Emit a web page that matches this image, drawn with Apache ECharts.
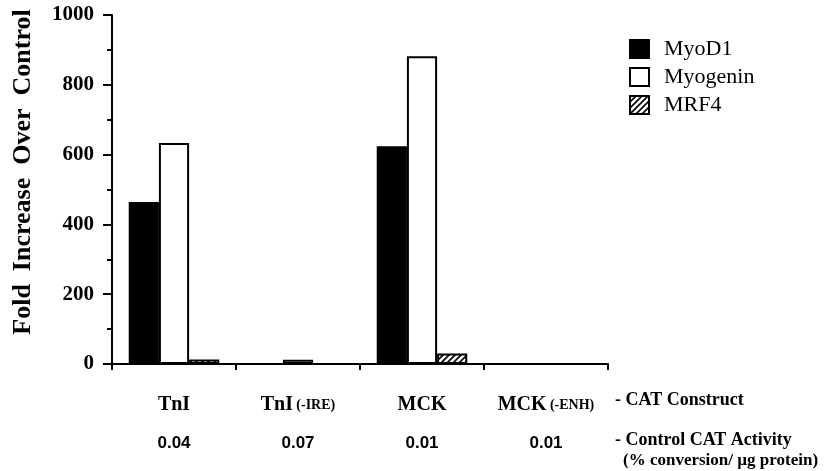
<!DOCTYPE html>
<html>
<head>
<meta charset="utf-8">
<script src="https://cdn.jsdelivr.net/npm/echarts@6/dist/echarts.min.js"></script>
<style>
  html, body { margin: 0; padding: 0; background: #fff; }
  #chart { width: 830px; height: 471px; }
</style>
</head>
<body>
<div id="chart"></div>
<script>
// constructs
var categories = ['TnI', 'TnI', 'MCK', 'MCK'];
var suffixes = ['', '(-IRE)', '', '(-ENH)'];
var activity = ['0.04', '0.07', '0.01', '0.01'];
// fold increase values
var myod1 = [464, 0, 624, 0];
var myogenin = [633, 12, 882, 0];
var mrf4 = [13, 0, 30, 0];
var yTicks = [0, 200, 400, 600, 800, 1000];

// hatch pattern for MRF4
function hatch() {
  var c = document.createElement('canvas');
  c.width = 6; c.height = 6;
  var g = c.getContext('2d');
  g.fillStyle = '#fff';
  g.fillRect(0, 0, 6, 6);
  g.strokeStyle = '#000';
  g.lineWidth = 1.6;
  g.beginPath();
  g.moveTo(-1, 7); g.lineTo(7, -1);
  g.moveTo(-1, 1); g.lineTo(1, -1);
  g.moveTo(5, 7); g.lineTo(7, 5);
  g.stroke();
  return c;
}

var serif = 'Liberation Serif';
var chart = echarts.init(document.getElementById('chart'));

var option = {
  animation: false,
  backgroundColor: '#fff',
  grid: { left: 112, right: 222, top: 15, bottom: 107 },
  legend: {
    orient: 'vertical',
    left: 624,
    top: 33,
    icon: 'rect',
    itemWidth: 19,
    itemHeight: 18,
    itemGap: 6,
    textStyle: { fontFamily: serif, fontSize: 22, color: '#000', padding: [0, 0, 0, 10] },
    data: ['MyoD1', 'Myogenin', 'MRF4']
  },
  xAxis: {
    type: 'category',
    data: categories,
    axisLine: { lineStyle: { color: '#000', width: 2 } },
    axisTick: { show: true, alignWithLabel: false, length: 6, lineStyle: { color: '#000', width: 2 } },
    axisLabel: {
      interval: 0,
      margin: 22,
      formatter: function (v, i) {
        var s = suffixes[i] ? ' {s|' + suffixes[i] + '}' : '';
        return '{m|' + v + '}' + s + '\n{n|' + activity[i] + '}';
      },
      rich: {
        m: { fontFamily: serif, fontSize: 20, fontWeight: 'bold', color: '#000', lineHeight: 38 },
        s: { fontFamily: serif, fontSize: 14, fontWeight: 'bold', color: '#000', lineHeight: 38 },
        n: { fontFamily: 'Liberation Sans', fontSize: 17, fontWeight: 'bold', color: '#000', lineHeight: 38 }
      }
    },
    splitLine: { show: false }
  },
  yAxis: {
    type: 'value',
    min: 0,
    max: 1000,
    interval: 200,
    axisLine: { show: true, lineStyle: { color: '#000', width: 2 } },
    axisTick: { show: true, length: 9, lineStyle: { color: '#000', width: 2 } },
    minorTick: { show: true, splitNumber: 2, length: 5, lineStyle: { color: '#000', width: 2 } },
    axisLabel: {
      margin: 18,
      fontFamily: serif,
      fontSize: 21,
      fontWeight: 'bold',
      color: '#000',
      formatter: function (v) { return yTicks.indexOf(v) >= 0 ? String(v) : ''; }
    },
    splitLine: { show: false }
  },
  series: [
    {
      name: 'MyoD1', type: 'bar', data: myod1,
      barGap: '0%', barCategoryGap: '27%',
      itemStyle: { color: '#000', borderColor: '#000', borderWidth: 2 }
    },
    {
      name: 'Myogenin', type: 'bar', data: myogenin,
      itemStyle: { color: '#fff', borderColor: '#000', borderWidth: 2 }
    },
    {
      name: 'MRF4', type: 'bar', data: mrf4,
      itemStyle: { color: { image: hatch(), repeat: 'repeat' }, borderColor: '#000', borderWidth: 2 }
    }
  ],
  graphic: [
    {
      type: 'text', x: 23, y: 172, rotation: Math.PI / 2,
      style: { text: 'Fold  Increase  Over  Control', fontFamily: serif, fontSize: 26, fontWeight: 'bold',
        fill: '#000', align: 'center', verticalAlign: 'middle' }
    },
    { type: 'text', x: 615, y: 400, style: { text: '- CAT Construct', fontFamily: serif, fontSize: 18, fontWeight: 'bold', fill: '#000', verticalAlign: 'middle' } },
    { type: 'text', x: 615, y: 440, style: { text: '- Control CAT Activity', fontFamily: serif, fontSize: 18, fontWeight: 'bold', fill: '#000', verticalAlign: 'middle' } },
    { type: 'text', x: 623, y: 461, style: { text: '(% conversion/ \u00b5g protein)', fontFamily: serif, fontSize: 17, fontWeight: 'bold', fill: '#000', verticalAlign: 'middle' } }
  ]
};

chart.setOption(option);
</script>
</body>
</html>
